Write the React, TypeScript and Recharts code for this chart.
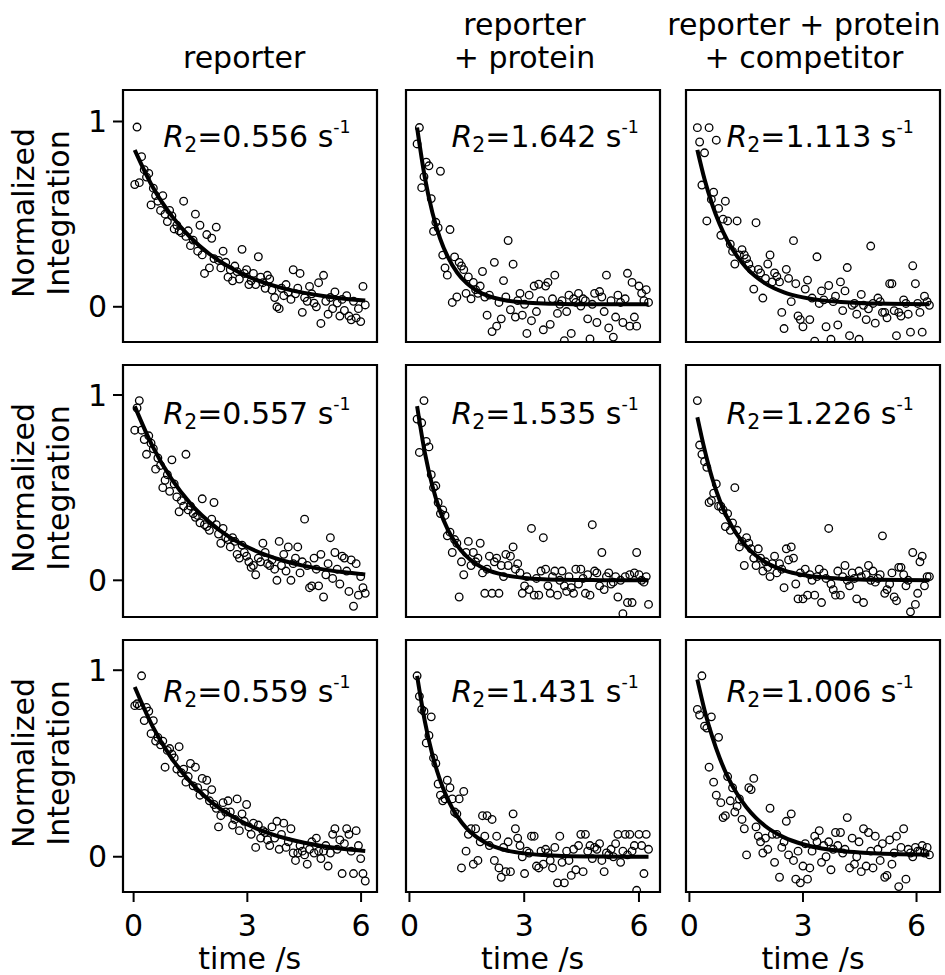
import React from 'react';
import { ComposedChart, Scatter, Line, XAxis, YAxis, ReferenceArea } from 'recharts';

// delay times (s), one list per column (same delays for every replicate)
const TIME_REPORTER = [
  0.03, 0.09, 0.15, 0.21, 0.28, 0.34, 0.40, 0.46, 0.52, 0.58,
  0.64, 0.71, 0.77, 0.83, 0.89, 0.95, 1.01, 1.07, 1.14, 1.20,
  1.26, 1.32, 1.38, 1.44, 1.50, 1.57, 1.63, 1.69, 1.75, 1.81,
  1.87, 1.93, 2.00, 2.06, 2.12, 2.18, 2.24, 2.30, 2.36, 2.43,
  2.49, 2.55, 2.61, 2.67, 2.73, 2.79, 2.86, 2.92, 2.98, 3.04,
  3.10, 3.16, 3.22, 3.29, 3.35, 3.41, 3.47, 3.53, 3.59, 3.65,
  3.72, 3.78, 3.84, 3.90, 3.96, 4.02, 4.08, 4.15, 4.21, 4.27,
  4.33, 4.39, 4.45, 4.51, 4.58, 4.64, 4.70, 4.76, 4.82, 4.88,
  4.94, 5.01, 5.07, 5.13, 5.19, 5.25, 5.31, 5.37, 5.44, 5.50,
  5.56, 5.62, 5.68, 5.74, 5.80, 5.87, 5.93, 5.99, 6.05, 6.11,
];
const TIME_PROTEIN = [
  0.20, 0.26, 0.32, 0.38, 0.44, 0.51, 0.57, 0.63, 0.69, 0.75,
  0.81, 0.87, 0.93, 0.99, 1.06, 1.12, 1.18, 1.24, 1.30, 1.36,
  1.42, 1.48, 1.54, 1.61, 1.67, 1.73, 1.79, 1.85, 1.91, 1.97,
  2.03, 2.09, 2.16, 2.22, 2.28, 2.34, 2.40, 2.46, 2.52, 2.58,
  2.64, 2.71, 2.77, 2.83, 2.89, 2.95, 3.01, 3.07, 3.13, 3.19,
  3.26, 3.32, 3.38, 3.44, 3.50, 3.56, 3.62, 3.68, 3.74, 3.80,
  3.87, 3.93, 3.99, 4.05, 4.11, 4.17, 4.23, 4.29, 4.35, 4.42,
  4.48, 4.54, 4.60, 4.66, 4.72, 4.78, 4.84, 4.90, 4.97, 5.03,
  5.09, 5.15, 5.21, 5.27, 5.33, 5.39, 5.45, 5.52, 5.58, 5.64,
  5.70, 5.76, 5.82, 5.88, 5.94, 6.00, 6.07, 6.13, 6.19, 6.25,
];
const TIME_COMPETITOR = [
  0.21, 0.27, 0.33, 0.40, 0.46, 0.52, 0.58, 0.64, 0.71, 0.77,
  0.83, 0.89, 0.95, 1.01, 1.08, 1.14, 1.20, 1.26, 1.32, 1.39,
  1.45, 1.51, 1.57, 1.63, 1.70, 1.76, 1.82, 1.88, 1.94, 2.01,
  2.07, 2.13, 2.19, 2.25, 2.31, 2.38, 2.44, 2.50, 2.56, 2.62,
  2.69, 2.75, 2.81, 2.87, 2.93, 3.00, 3.06, 3.12, 3.18, 3.24,
  3.31, 3.37, 3.43, 3.49, 3.55, 3.61, 3.68, 3.74, 3.80, 3.86,
  3.92, 3.99, 4.05, 4.11, 4.17, 4.23, 4.30, 4.36, 4.42, 4.48,
  4.54, 4.60, 4.67, 4.73, 4.79, 4.85, 4.91, 4.98, 5.04, 5.10,
  5.16, 5.22, 5.29, 5.35, 5.41, 5.47, 5.53, 5.59, 5.66, 5.72,
  5.78, 5.84, 5.90, 5.97, 6.03, 6.09, 6.15, 6.21, 6.28, 6.34,
];

// normalized integration, in hundredths
const REP1_REPORTER = [
  66, 97, 67, 81, 74, 70, 72, 55, 64, 60,
  57, 52, 60, 50, 46, 52, 49, 42, 44, 41,
  40, 57, 38, 41, 33, 36, 50, 30, 44, 28,
  18, 39, 21, 37, 26, 43, 25, 21, 30, 24,
  16, 20, 14, 22, 19, 15, 31, 18, 20, 12,
  14, 18, 12, 27, 16, 13, 10, 17, 15, 9,
  5, 0, -1, 10, 6, 12, 8, 4, 20, 7,
  10, 18, -3, 5, 3, 11, 7, 2, 0, 13,
  -9, 17, 3, -4, 5, -1, 8, 2, -5, 4,
  -2, 6, -5, -7, 3, -6, -1, -8, 11, 1,
];
const REP2_REPORTER = [
  81, 93, 97, 81, 76, 68, 78, 74, 71, 60,
  66, 62, 50, 54, 57, 48, 65, 52, 45, 37,
  43, 40, 68, 38, 40, 36, 34, 35, 31, 44,
  30, 29, 27, 33, 42, 30, 25, 20, 28, 23,
  22, 18, 23, 21, 14, 12, 19, 15, 13, 10,
  7, 8, 3, 12, 10, 20, 15, 9, 8, 11,
  6, 0, 21, 8, 14, 5, 18, 0, 9, 12,
  18, 4, 10, 33, 8, -4, -3, 12, 6, -3,
  14, -9, 3, 9, 23, 1, 15, 6, -2, 13,
  12, 5, -6, 11, -14, 9, -8, 2, -4, -7,
];
const REP3_REPORTER = [
  81, 82, 81, 97, 73, 80, 78, 66, 73, 62,
  64, 60, 62, 48, 57, 58, 55, 53, 47, 59,
  45, 47, 40, 43, 50, 38, 48, 37, 33, 42,
  34, 41, 30, 36, 28, 26, 16, 22, 29, 24,
  30, 24, 17, 20, 31, 14, 23, 19, 28, 16,
  12, 18, 5, 17, 10, 14, 13, 9, 6, 16,
  10, 19, 4, 12, 18, 5, 8, 15, 2, -2,
  2, 6, 3, 1, -4, 4, 8, 2, 10, 3,
  -1, 3, 6, -5, 2, 12, 15, 4, 9, -9,
  7, 15, 12, 3, -9, 14, 6, -1, -9, -13,
];
const REP1_PROTEIN = [
  88, 97, 64, 70, 78, 76, 58, 40, 45, 42,
  73, 27, 20, 16, 41, 1, 26, 4, 23, 21,
  19, 6, 15, 3, 12, 8, 6, 10, 18, 4,
  -6, 5, -15, 23, -12, 1, -8, 13, 4, 35,
  -3, 22, -7, 2, 6, -6, 0, -16, 5, -9,
  10, -4, 11, 2, -14, 10, 12, -11, 3, 16,
  -5, 0, 2, -20, -4, 5, -16, 3, 1, 6,
  -1, 3, 2, -8, -19, 0, 6, -10, 7, 4,
  -4, 16, -13, 2, -18, -7, 5, 1, -10, 3,
  17, -12, 12, -7, -12, 10, 6, 2, 8, 1,
];
const REP2_PROTEIN = [
  87, 69, 85, 97, 75, 72, 57, 50, 51, 42,
  36, 38, 35, 24, 26, 15, 22, 20, -9, 10,
  3, 15, 21, 8, 15, 10, 12, 20, 4, -7,
  6, 13, -7, 10, 12, -7, 8, 2, 14, 8,
  13, 18, 6, 9, 4, -7, -3, 2, -5, 28,
  -8, 1, -8, 5, 23, 6, -3, -7, 2, 5,
  -8, 0, 5, -3, -6, 2, -4, -7, 6, -2,
  6, 1, -7, 3, -8, 30, 5, 4, -3, 15,
  -5, 2, 4, -2, -1, 2, -9, 0, -18, 2,
  -12, 3, -12, 4, 15, 3, 0, -1, 2, -13,
];
const REP3_PROTEIN = [
  97, 86, 79, 78, 61, 65, 75, 53, 50, 39,
  33, 30, 31, 41, 37, 31, 24, 23, 31, -6,
  35, 3, 12, 15, -4, 15, -2, 8, 22, 11,
  22, 6, 20, -2, 11, -6, -11, 5, -8, 8,
  -8, 23, 15, 10, 6, 0, -9, 3, 2, 11,
  11, -5, -6, 3, -4, 4, 2, -2, -6, 5,
  -14, 11, -3, -14, 3, -2, -10, 4, -7, 6,
  12, -8, 12, 3, 6, -1, 5, 4, 7, -2,
  -8, 2, 1, 4, 0, 7, 12, -3, 3, 12,
  1, 12, 3, 6, -18, 12, 6, -9, 12, 4,
];
const REP1_COMPETITOR = [
  99, 91, 67, 85, 47, 99, 59, 63, 92, 54,
  39, 48, 58, 47, 34, 30, 23, 47, 28, 31,
  28, 26, 23, 20, 9, 46, 20, 18, 4, 15,
  23, 28, 13, 18, 16, 13, -4, -13, 20, 15,
  2, 36, 12, -6, -8, -12, 9, 14, -8, 4,
  -20, 27, 1, 8, 3, -12, 11, -19, 2, 5,
  -11, 13, -3, 8, 21, -17, 0, 1, -5, -19,
  6, 0, -8, -2, 33, 1, -10, 4, 2, -4,
  -4, -7, 12, 12, -3, -17, -4, -6, 3, 1,
  -5, -15, 22, 12, 1, -4, -15, 5, 2, 0,
];
const REP2_COMPETITOR = [
  97, 73, 68, 64, 61, 42, 43, 47, 52, 40,
  40, 38, 29, 36, 27, 31, 50, 27, 18, 21,
  8, 23, 20, 17, 12, 8, 17, 12, 5, 10,
  7, 2, 9, 13, 4, 9, 6, -4, 17, 11,
  18, 12, -2, -10, 4, -10, 6, -8, 3, 0,
  -8, 2, 6, -12, 4, 1, 28, -2, -5, -8,
  5, -8, 2, 8, 0, -3, 4, 1, -10, 5,
  2, -12, 3, 8, 0, 5, -1, 1, 3, 24,
  -7, -5, -2, 4, -9, -11, 7, 7, 3, -3,
  0, -17, 15, -13, -7, 10, 13, -3, 2, 2,
];
const REP3_COMPETITOR = [
  79, 76, 97, 70, 69, 48, 75, 40, 33, 64,
  29, 21, 22, 43, 30, 37, 24, 27, 31, 20,
  15, 1, 37, 36, 42, 16, 11, 8, 2, 10,
  4, 26, 12, -3, 12, -11, 5, 8, 19, 1,
  23, -2, -12, 3, -14, -5, 7, -12, -6, 3,
  11, 8, 14, -3, 6, 0, 8, -7, 4, 13,
  6, 13, 2, 4, 21, -6, 10, -4, 0, 8,
  -8, 15, -5, 13, 3, -6, 11, 4, -2, 7,
  -11, -10, 9, -4, 2, 11, -16, 5, 15, -12,
  4, 2, 0, 5, 3, 3, 6, 2, 5, 1,
];

// fitted decay curves, read at a few times along the line
const FIT_T_REPORTER = [0.03, 0.5, 1, 1.5, 2, 2.5, 3, 3.5, 4, 4.5, 5, 5.5, 6.11];
const FIT_T_PROTEIN = [0.2, 0.4, 0.6, 0.8, 1, 1.25, 1.5, 1.75, 2, 2.5, 3, 3.5, 4, 5, 6.25];
const FIT_T_COMPETITOR = [0.21, 0.4, 0.6, 0.8, 1, 1.25, 1.5, 1.75, 2, 2.5, 3, 3.5, 4, 4.5, 5, 6.34];

const FIT1_REPORTER = [0.846, 0.648, 0.492, 0.374, 0.285, 0.217, 0.165, 0.126, 0.097, 0.075, 0.058, 0.045, 0.034];
const FIT2_REPORTER = [0.939, 0.723, 0.547, 0.414, 0.314, 0.237, 0.18, 0.136, 0.103, 0.078, 0.059, 0.045, 0.032];
const FIT3_REPORTER = [0.91, 0.699, 0.529, 0.4, 0.302, 0.229, 0.173, 0.131, 0.099, 0.075, 0.057, 0.043, 0.031];
const FIT1_PROTEIN = [0.97, 0.699, 0.503, 0.362, 0.261, 0.173, 0.115, 0.076, 0.05, 0.022, 0.01, 0.004, 0.002, 0, 0];
const FIT2_PROTEIN = [0.94, 0.692, 0.509, 0.374, 0.275, 0.188, 0.128, 0.087, 0.059, 0.028, 0.013, 0.006, 0.003, 0.001, 0];
const FIT3_PROTEIN = [0.97, 0.729, 0.547, 0.411, 0.309, 0.216, 0.151, 0.106, 0.074, 0.036, 0.018, 0.009, 0.004, 0.001, 0];
const FIT1_COMPETITOR = [0.866, 0.702, 0.563, 0.451, 0.362, 0.276, 0.21, 0.16, 0.122, 0.072, 0.044, 0.027, 0.018, 0.012, 0.009, 0.006];
const FIT2_COMPETITOR = [0.88, 0.706, 0.552, 0.432, 0.338, 0.249, 0.183, 0.135, 0.099, 0.054, 0.029, 0.016, 0.009, 0.005, 0.003, 0];
const FIT3_COMPETITOR = [0.95, 0.786, 0.645, 0.529, 0.434, 0.34, 0.267, 0.21, 0.165, 0.104, 0.067, 0.044, 0.031, 0.023, 0.018, 0.012];

const R2_VALUES = [
  ['0.556', '1.642', '1.113'],
  ['0.557', '1.535', '1.226'],
  ['0.559', '1.431', '1.006'],
];
const COLUMN_TITLES = [['reporter'], ['reporter', '+ protein'], ['reporter + protein', '+ competitor']];
const X_TICKS = [0, 3, 6];
const Y_TICKS = [0, 1];
const Y_TICKS_UNLABELED = [0, 0.5, 1];

const TIMES = [TIME_REPORTER, TIME_PROTEIN, TIME_COMPETITOR];
const FIT_TIMES = [FIT_T_REPORTER, FIT_T_PROTEIN, FIT_T_COMPETITOR];
const VALUES = [
  [REP1_REPORTER, REP1_PROTEIN, REP1_COMPETITOR],
  [REP2_REPORTER, REP2_PROTEIN, REP2_COMPETITOR],
  [REP3_REPORTER, REP3_PROTEIN, REP3_COMPETITOR],
];
const FITS = [
  [FIT1_REPORTER, FIT1_PROTEIN, FIT1_COMPETITOR],
  [FIT2_REPORTER, FIT2_PROTEIN, FIT2_COMPETITOR],
  [FIT3_REPORTER, FIT3_PROTEIN, FIT3_COMPETITOR],
];

// layout (px)
const FONT = "'DejaVu Sans', sans-serif";
const FS = 30;
const PANEL_LEFT = [122.7, 405.6, 686];
const PANEL_TOP = [90, 365, 639.5];
const PANEL_W = 254;
const PANEL_H = 252;
const AXIS_W = 60;
const AXIS_H = 70;
const PAD = 8;
const X_DOMAINS = [[-0.28, 6.42], [-0.09, 6.55], [-0.09, 6.62]];
const Y_DOMAINS = [
  [[-0.19, 1.17], [-0.207, 1.176], [-0.205, 1.2]],
  [[-0.198, 1.162], [-0.198, 1.162], [-0.198, 1.162]],
  [[-0.189, 1.162], [-0.189, 1.162], [-0.189, 1.162]],
];
const LABEL_DX = [40.6, 45.8, 40.4];
const LABEL_DY = [57, 59, 63];
const TITLE_X = [244.2, 524.5, 804];
const TITLE_LINE = 33.3;
const BASELINE = 0.846 * FS; // baseline offset inside a line-height:1 box

const tickStyle = { fill: '#000', fontSize: FS, fontFamily: FONT };

const OpenCircle = (props: any) => {
  const { cx, cy } = props;
  if (cx == null || cy == null) return null;
  return <circle cx={cx} cy={cy} r={3.8} fill="none" stroke="#000" strokeWidth={1.3} />;
};

function Panel({ row, col }: { row: number; col: number }) {
  const times = TIMES[col];
  const points = VALUES[row][col].map((v, i) => ({ t: times[i], v: v / 100 }));
  const fit = FIT_TIMES[col].map((t, i) => ({ t, f: FITS[row][col][i] }));
  const xd = X_DOMAINS[col];
  const yd = Y_DOMAINS[row][col];
  const bottomRow = row === 2;
  const firstCol = col === 0;
  const ghostTicks = row === 0 && col === 2;

  return (
    <div style={{ position: 'absolute', left: PANEL_LEFT[col] - AXIS_W, top: PANEL_TOP[row] - PAD }}>
      <ComposedChart
        width={AXIS_W + PANEL_W + PAD}
        height={PAD + PANEL_H + AXIS_H}
        margin={{ top: PAD, right: PAD, bottom: 0, left: 0 }}
      >
        <XAxis
          dataKey="t"
          type="number"
          domain={xd}
          allowDataOverflow
          ticks={X_TICKS}
          interval={0}
          height={AXIS_H}
          stroke="#000"
          axisLine={false}
          tickSize={10}
          tickMargin={13}
          tickLine={bottomRow ? { stroke: '#000', strokeWidth: 2 } : false}
          tick={bottomRow ? tickStyle : false}
        />
        <YAxis
          type="number"
          domain={yd}
          allowDataOverflow
          ticks={ghostTicks ? Y_TICKS_UNLABELED : Y_TICKS}
          interval={0}
          width={AXIS_W}
          stroke="#000"
          axisLine={false}
          tickSize={10}
          tickMargin={6}
          tickLine={firstCol || ghostTicks ? { stroke: '#000', strokeWidth: 2 } : false}
          tick={firstCol ? tickStyle : false}
        />
        <Scatter data={points} dataKey="v" shape={OpenCircle} isAnimationActive={false} />
        <Line
          data={fit}
          dataKey="f"
          type="monotone"
          dot={false}
          stroke="#000"
          strokeWidth={4}
          isAnimationActive={false}
        />
        <ReferenceArea
          x1={xd[0]}
          x2={xd[1]}
          y1={yd[0]}
          y2={yd[1]}
          fill="none"
          stroke="#000"
          strokeWidth={2.2}
          ifOverflow="visible"
        />
      </ComposedChart>
      <div
        style={{
          position: 'absolute',
          left: AXIS_W + LABEL_DX[col],
          top: PAD + LABEL_DY[row] - BASELINE,
          fontSize: FS,
          lineHeight: 1,
          whiteSpace: 'nowrap',
          fontFamily: FONT,
        }}
      >
        <i>R</i>
        <sub style={{ fontSize: '0.68em', verticalAlign: '-0.25em', lineHeight: 0 }}>2</sub>
        ={R2_VALUES[row][col]} s
        <sup style={{ fontSize: '0.58em', verticalAlign: '0.78em', lineHeight: 0 }}>-1</sup>
      </div>
    </div>
  );
}

export default function App() {
  const rows = [0, 1, 2];
  const cols = [0, 1, 2];
  return (
    <div
      style={{
        position: 'absolute',
        left: 0,
        top: 0,
        width: 945,
        height: 975,
        background: '#fff',
        fontFamily: FONT,
        color: '#000',
        overflow: 'hidden',
      }}
    >
      {/* column titles, last line sits on a common baseline */}
      {COLUMN_TITLES.map((lines, c) => (
        <div
          key={`title-${c}`}
          style={{
            position: 'absolute',
            left: TITLE_X[c] - 170,
            width: 340,
            top: 68.3 - 27 - (lines.length - 1) * TITLE_LINE,
            fontSize: FS,
            lineHeight: `${TITLE_LINE}px`,
            textAlign: 'center',
            whiteSpace: 'nowrap',
          }}
        >
          {lines.map((l) => (
            <div key={l}>{l}</div>
          ))}
        </div>
      ))}

      {/* y labels */}
      {rows.map((r) => (
        <div
          key={`ylab-${r}`}
          style={{
            position: 'absolute',
            left: 40.8 - 120,
            top: PANEL_TOP[r] + PANEL_H / 2 - 3 - 35,
            width: 240,
            height: 70,
            fontSize: FS,
            lineHeight: '35px',
            textAlign: 'center',
            transform: 'rotate(-90deg)',
            whiteSpace: 'nowrap',
          }}
        >
          <div>Normalized</div>
          <div>Integration</div>
        </div>
      ))}

      {rows.map((r) => cols.map((c) => <Panel key={`p-${r}-${c}`} row={r} col={c} />))}

      {/* x labels */}
      {cols.map((c) => (
        <div
          key={`xlab-${c}`}
          style={{
            position: 'absolute',
            left: PANEL_LEFT[c] + PANEL_W / 2 - 100,
            width: 200,
            top: 969 - BASELINE,
            fontSize: FS,
            lineHeight: 1,
            textAlign: 'center',
            whiteSpace: 'nowrap',
          }}
        >
          time /s
        </div>
      ))}
    </div>
  );
}
